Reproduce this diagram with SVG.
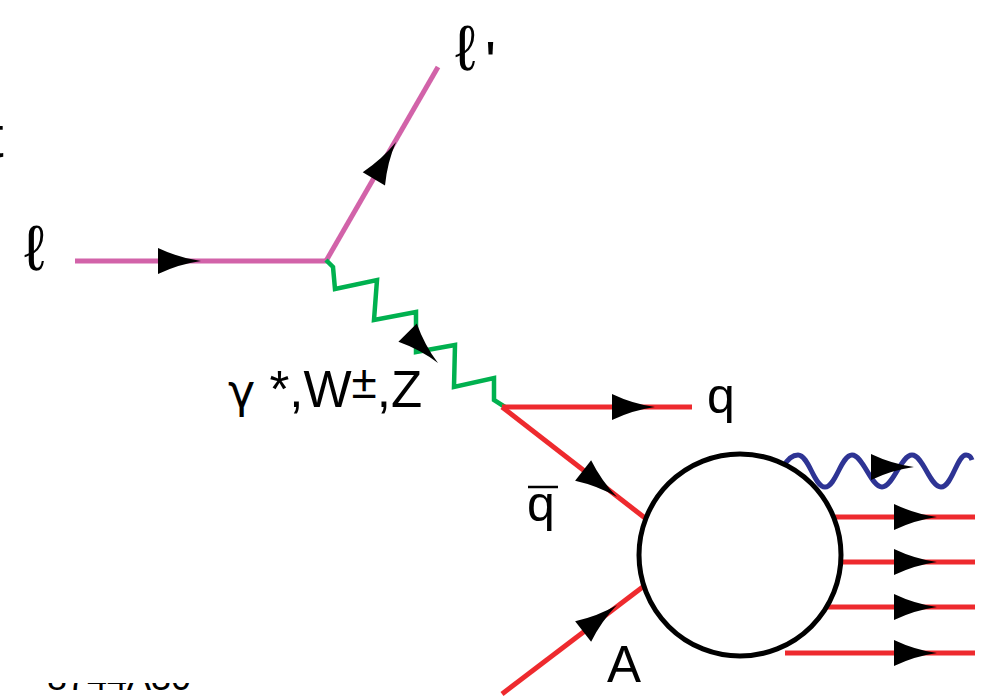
<svg xmlns="http://www.w3.org/2000/svg" width="990" height="696" viewBox="0 0 990 696">
<style>
.pink{stroke:#d263a9;stroke-width:5;fill:none}
.green{stroke:#00b14f;stroke-width:4.5;fill:none;stroke-linejoin:miter}
.red{stroke:#ee2a2e;stroke-width:5;fill:none}
.blue{stroke:#2e3494;stroke-width:5;fill:none}
.lbl{font-family:"Liberation Sans",Arial,sans-serif;fill:#000}
.ell{font-family:"Liberation Sans",Arial,sans-serif;fill:#000}
</style>
<defs>
<path id="arr" d="M0,0 Q-22,-3 -43,-13 L-43,13 Q-22,3 0,0Z" fill="#000"/>
<clipPath id="cb"><rect x="0" y="683" width="300" height="13"/></clipPath>
</defs>
<g id="connectors">
<line class="pink" x1="75" y1="261" x2="328" y2="261"/>
<line class="pink" x1="326" y1="261" x2="438" y2="67"/>
<polyline class="green" points="326,260 333,267 335,289 377,280 374,320 416,312 416,352 455,345 454,387 494,378 494,400 505,407"/>
<line class="red" x1="502" y1="407" x2="692" y2="407"/>
<line class="red" x1="502" y1="407" x2="645" y2="518"/>
<line class="red" x1="502" y1="694" x2="644" y2="586"/>
<line class="red" x1="760" y1="517" x2="975" y2="517"/>
<line class="red" x1="760" y1="562" x2="975" y2="562"/>
<line class="red" x1="760" y1="607" x2="975" y2="607"/>
<line class="red" x1="785" y1="653" x2="975" y2="653"/>
<path class="blue" d="M783,467 C787,460 792,455 798,455 C809,455 814,487 825,487 C836,487 841,455 852,455 C863,455 871,487 882,487 C893,487 901,455 912,455 C923,455 930,487 941,487 C952,487 957,455 966,455 C969,455 971,457 972,460"/>
</g>
<g id="blob">
<circle cx="740" cy="555" r="101" fill="#fff" stroke="#000" stroke-width="5"/>
</g>
<g id="arrows">
<use href="#arr" transform="translate(201,261)"/>
<use href="#arr" transform="translate(396,142) rotate(-59)"/>
<use href="#arr" transform="translate(438,363) rotate(45)"/>
<use href="#arr" transform="translate(655,407)"/>
<use href="#arr" transform="translate(617,497) rotate(38)"/>
<use href="#arr" transform="translate(617,605) rotate(-38)"/>
<use href="#arr" transform="translate(914,467)"/>
<use href="#arr" transform="translate(937,517)"/>
<use href="#arr" transform="translate(937,562)"/>
<use href="#arr" transform="translate(937,607)"/>
<use href="#arr" transform="translate(937,653)"/>
</g>
<g id="labels">
<text class="ell" x="24" y="270" font-size="64">ℓ</text>
<text class="ell" x="455" y="70" font-size="64">ℓ</text>
<text class="lbl" x="485" y="82" font-size="58">'</text>
<text class="lbl" x="228" y="407" font-size="51"><tspan font-family="'DejaVu Sans',sans-serif" font-size="46">γ</tspan> *,W<tspan font-size="46" dy="-9">±</tspan><tspan dy="9">,Z</tspan></text>
<text class="lbl" x="707" y="413" font-size="50">q</text>
<text class="lbl" x="527" y="521" font-size="50">q</text>
<line x1="528" y1="487" x2="558" y2="487" stroke="#000" stroke-width="2.5"/>
<text class="lbl" x="607" y="682" font-size="51">A</text>
<text class="lbl" x="47" y="690" font-size="36" clip-path="url(#cb)">8744A30</text>
<text class="lbl" x="-13" y="157" font-size="60">t</text>
</g>
</svg>
